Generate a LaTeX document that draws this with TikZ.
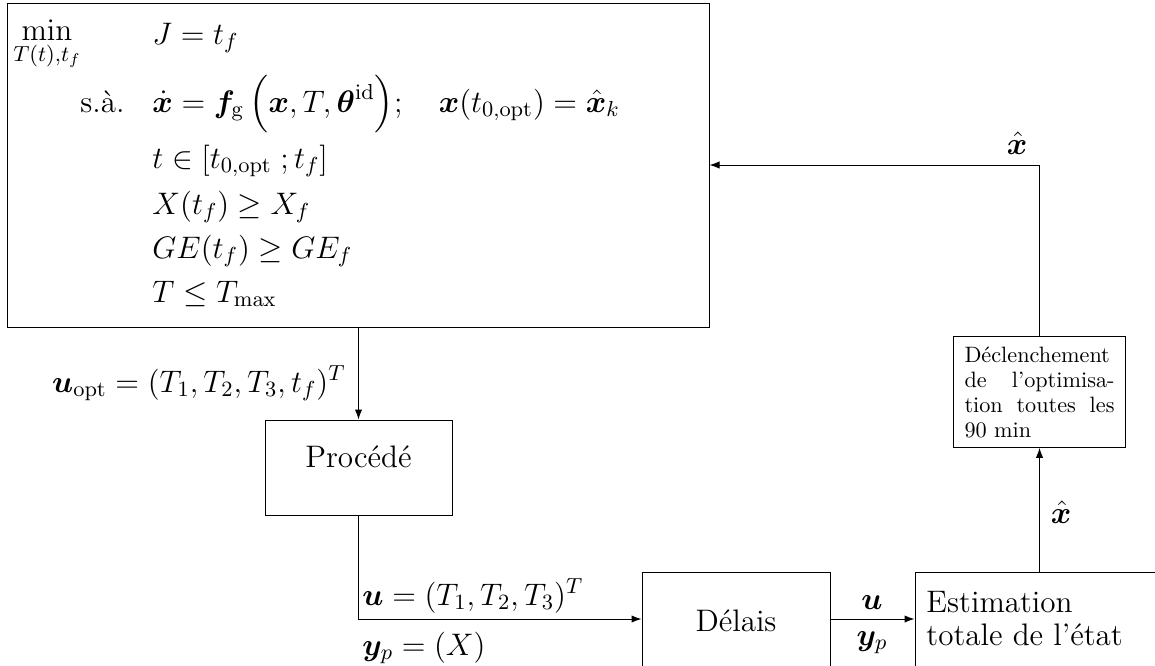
\RequirePackage{fix-cm}
\documentclass[tikz,border=0pt]{standalone}
\usepackage{amsmath,bm}
\usetikzlibrary{fit,arrows.meta}
\newcommand\mainsize{\fontsize{14}{17}\selectfont}
\begin{document}
\begin{tikzpicture}[x=0.45pt,y=-0.45pt,
  box/.style={draw, line width=0.45pt, inner sep=0pt},
  arr/.style={-{Latex[length=4.5pt,width=3.3pt]}, line width=0.45pt},
  lbl/.style={inner sep=0pt, font=\mainsize},
]
\useasboundingbox (0,0) rectangle (1155,665);
\clip (0,0) rectangle (1155,665);

% boxes
\node[box, fit={(7,3) (709,327)}] (opt) {};
\node[box, fit={(265,420) (452,515)}, font=\mainsize] (proc) {Procédé};
\node[box, fit={(642,572) (830,720)}] (delais) {};
\node[box, fit={(915,572) (1200,720)}] (estim) {};
\node[draw, line width=0.45pt, inner xsep=4.95pt, inner ysep=4.4pt, text width=67.5pt, align=left, font=\fontsize{10}{11.25}\selectfont] (decl) at (1039.5,392)
  {Déclenchement\\ \makebox[67.5pt][l]{de\hfill l'optimisa-}\\ \makebox[67.5pt][l]{tion\hfill toutes\hfill les}\\ 90 min};

% optimisation problem
\node[lbl, anchor=base] (min) at (47,40) {$\displaystyle\min_{T(t),t_f}$};
\node[lbl, anchor=base west] (r1) at (152,44) {$\displaystyle J = t_f$};
\node[lbl, anchor=base west] (sa) at (80,112) {s.à.};
\node[lbl, anchor=base west] (r2) at (152,112) {$\displaystyle \dot{\bm{x}} = \bm{f}_{\mathrm{g}}\,\Bigl(\bm{x}, T, \bm{\theta}^{\mathrm{id}}\Bigr);\quad \bm{x}(t_{0,\mathrm{opt}}) = \hat{\bm{x}}_k$};
\node[lbl, anchor=base west] (r3) at (152,168) {$\displaystyle t \in [t_{0,\mathrm{opt}}\;; t_f]$};
\node[lbl, anchor=base west] (r4) at (152,214) {$\displaystyle X(t_f) \geq X_f$};
\node[lbl, anchor=base west] (r5) at (152,258) {$\displaystyle GE(t_f) \geq GE_f$};
\node[lbl, anchor=base west] (r6) at (152,302) {$\displaystyle T \leq T_{\max}$};

% texts in cut boxes
\node[lbl, anchor=base] (tdel) at (736,631) {Délais};
\node[lbl, anchor=base west] (test1) at (926,612) {Estimation};
\node[lbl, anchor=base west] (test2) at (926,645) {totale de l'état};

% connector labels
\node[lbl, anchor=base east] (luopt) at (346,392) {$\bm{u}_{\mathrm{opt}} = (T_1,T_2,T_3,t_f)^T$};
\node[lbl, anchor=base west] (lu) at (362,605) {$\bm{u} = (T_1,T_2,T_3)^T$};
\node[lbl, anchor=base west] (lyp) at (362,655) {$\bm{y}_p = (X)$};
\node[lbl, anchor=base] (lu2) at (872,609) {$\bm{u}$};
\node[lbl, anchor=base] (lyp2) at (872,645) {$\bm{y}_p$};
\node[lbl, anchor=base] (lx1) at (1017,154) {$\hat{\bm{x}}$};
\node[lbl, anchor=base] (lx2) at (1061,523) {$\hat{\bm{x}}$};

% connectors
\coordinate (mid) at (0,619);
\draw[arr] (opt.south -| proc.north) -- (proc.north);
\draw[arr] (proc.south) |- (delais.west |- mid);
\draw[arr] (delais.east |- mid) -- (estim.west |- mid);
\draw[arr] (estim.north -| decl.south) -- (decl.south);
\draw[arr] (decl.north) |- (opt.east);
\end{tikzpicture}
\end{document}
